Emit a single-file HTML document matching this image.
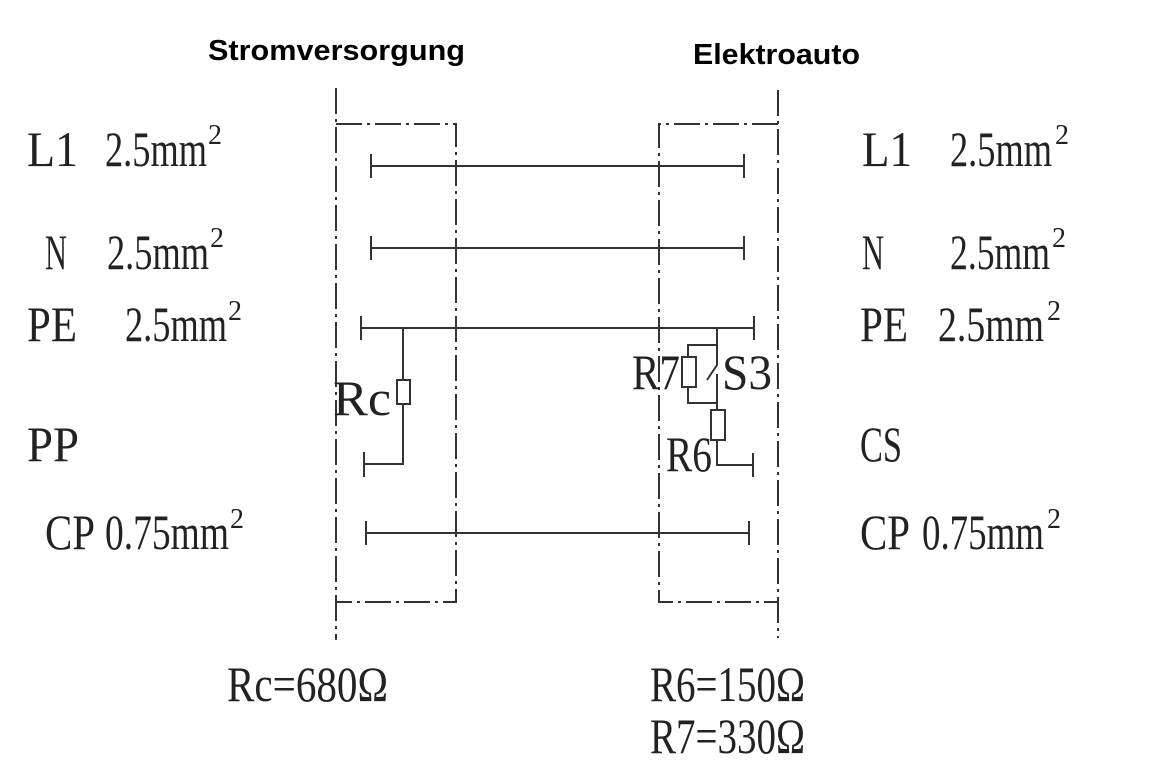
<!DOCTYPE html>
<html><head><meta charset="utf-8"><style>
html,body{margin:0;padding:0;background:#fff;width:1150px;height:774px;overflow:hidden}
svg{display:block}
.s{font-family:"Liberation Serif",serif;fill:#222}
.h{font-family:"Liberation Sans",sans-serif;font-weight:bold;font-size:29px;fill:#000}
</style></head><body>
<svg width="1150" height="774" viewBox="0 0 1150 774" xmlns="http://www.w3.org/2000/svg">
<text class="h" x="208" y="60" textLength="257" lengthAdjust="spacingAndGlyphs">Stromversorgung</text>
<text class="h" x="693" y="64" textLength="167" lengthAdjust="spacingAndGlyphs">Elektroauto</text>

<g stroke="#333" stroke-width="2" fill="none">
<line x1="336" y1="88" x2="336" y2="640" stroke-dasharray="26,5,3,5"/>
<line x1="778" y1="90" x2="778" y2="638" stroke-dasharray="26,5,3,5"/>
<path d="M336 124 H456 V602 H336" stroke-dasharray="26,5,3,5"/>
<path d="M778 124 H659 V602 H778" stroke-dasharray="26,5,3,5"/>
</g>
<g stroke="#333" stroke-width="2" fill="none">
<line x1="371" y1="166" x2="744" y2="166"/><line x1="371" y1="154" x2="371" y2="178"/><line x1="744" y1="154" x2="744" y2="178"/>
<line x1="371" y1="248" x2="744" y2="248"/><line x1="371" y1="236" x2="371" y2="260"/><line x1="744" y1="236" x2="744" y2="260"/>
<line x1="361" y1="328" x2="754" y2="328"/><line x1="361" y1="316" x2="361" y2="340"/><line x1="754" y1="316" x2="754" y2="340"/>
<path d="M403 328 V380 M403 404 V464 H364"/>
<rect x="397" y="380" width="13" height="24"/>
<line x1="364" y1="452" x2="364" y2="477"/>
<line x1="366" y1="533" x2="749" y2="533"/><line x1="366" y1="521" x2="366" y2="545"/><line x1="749" y1="521" x2="749" y2="545"/>
<path d="M717 328 V365 L707 380 M717 374 V410 M717 345 H688 V357 M688 387 V403 H717"/>
<rect x="682" y="357" width="14" height="30"/>
<rect x="711" y="410" width="14" height="30"/>
<path d="M717 440 V465 H753"/>
<line x1="753" y1="453" x2="753" y2="477"/>
</g>

<g class="s" font-size="50">
<text x="27" y="166" textLength="51" lengthAdjust="spacingAndGlyphs">L1</text>
<text x="105" y="166" textLength="102" lengthAdjust="spacingAndGlyphs">2.5mm</text>
<text x="45" y="269" textLength="22" lengthAdjust="spacingAndGlyphs">N</text>
<text x="107" y="269" textLength="102" lengthAdjust="spacingAndGlyphs">2.5mm</text>
<text x="27" y="341" textLength="50" lengthAdjust="spacingAndGlyphs">PE</text>
<text x="125" y="341" textLength="102" lengthAdjust="spacingAndGlyphs">2.5mm</text>
<text x="27" y="461" textLength="52" lengthAdjust="spacingAndGlyphs">PP</text>
<text x="45" y="549" textLength="50" lengthAdjust="spacingAndGlyphs">CP</text>
<text x="105" y="549" textLength="124" lengthAdjust="spacingAndGlyphs">0.75mm</text>

<text x="862" y="166" textLength="50" lengthAdjust="spacingAndGlyphs">L1</text>
<text x="950" y="166" textLength="102" lengthAdjust="spacingAndGlyphs">2.5mm</text>
<text x="862" y="269" textLength="22" lengthAdjust="spacingAndGlyphs">N</text>
<text x="950" y="269" textLength="100" lengthAdjust="spacingAndGlyphs">2.5mm</text>
<text x="860" y="341" textLength="48" lengthAdjust="spacingAndGlyphs">PE</text>
<text x="938" y="341" textLength="106" lengthAdjust="spacingAndGlyphs">2.5mm</text>
<text x="860" y="461" textLength="42" lengthAdjust="spacingAndGlyphs">CS</text>
<text x="860" y="549" textLength="50" lengthAdjust="spacingAndGlyphs">CP</text>
<text x="922" y="549" textLength="122" lengthAdjust="spacingAndGlyphs">0.75mm</text>

<text x="333" y="415" textLength="58" lengthAdjust="spacingAndGlyphs">Rc</text>
<text x="632" y="389" textLength="48" lengthAdjust="spacingAndGlyphs">R7</text>
<text x="722" y="389" textLength="50" lengthAdjust="spacingAndGlyphs">S3</text>
<text x="666" y="471" textLength="46" lengthAdjust="spacingAndGlyphs">R6</text>

<text x="227" y="701" textLength="161" lengthAdjust="spacingAndGlyphs">Rc=680Ω</text>
<text x="650" y="701" textLength="155" lengthAdjust="spacingAndGlyphs">R6=150Ω</text>
<text x="650" y="753" textLength="155" lengthAdjust="spacingAndGlyphs">R7=330Ω</text>
</g>
<g class="s" font-size="28">
<text x="208" y="144">2</text>
<text x="210" y="247">2</text>
<text x="228" y="320">2</text>
<text x="230" y="528">2</text>
<text x="1055" y="144">2</text>
<text x="1052" y="247">2</text>
<text x="1047" y="320">2</text>
<text x="1047" y="528">2</text>
</g>
</svg>
</body></html>
